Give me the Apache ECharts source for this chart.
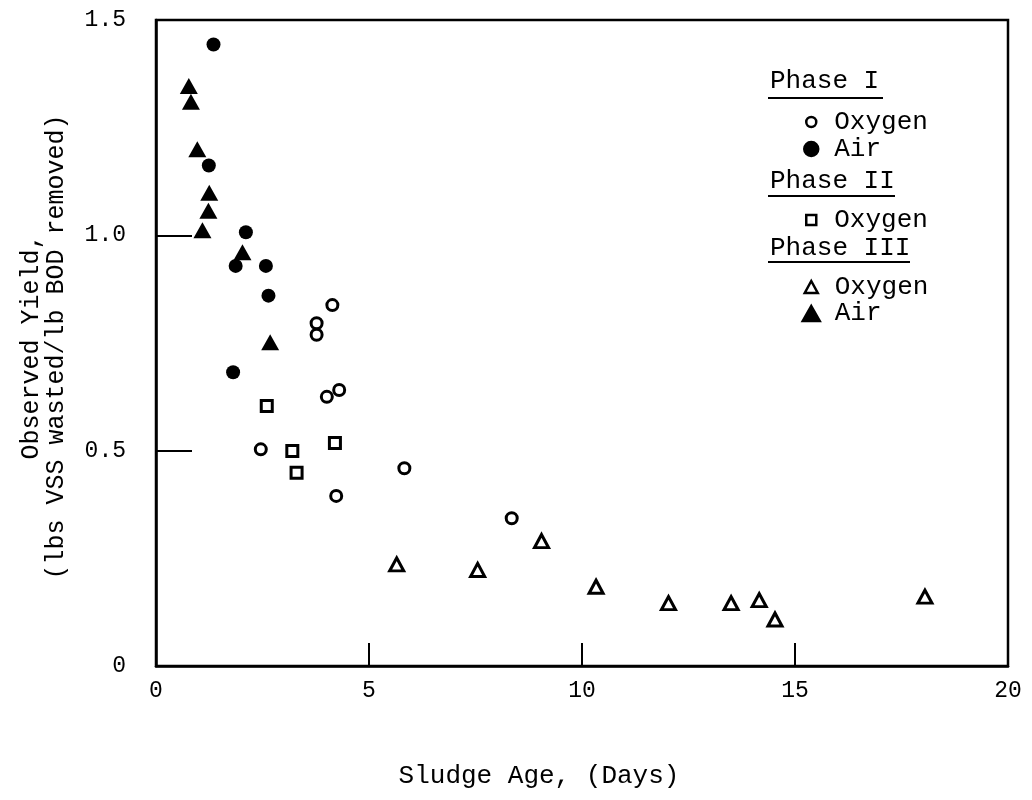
<!DOCTYPE html>
<html>
<head>
<meta charset="utf-8">
<script src="https://cdn.jsdelivr.net/npm/echarts@6/dist/echarts.min.js"></script>
<style>html,body{margin:0;padding:0;background:#fff;}#c{width:1032px;height:800px;}</style>
</head>
<body>
<div id="c"></div>
<script>
// Sludge age (days), observed yield
var phase1OxygenX = [4.14, 3.77, 3.77, 4.30, 4.01, 2.46, 5.83, 4.23, 8.35];
var phase1OxygenY = [0.838, 0.796, 0.769, 0.641, 0.625, 0.503, 0.459, 0.395, 0.343];
var phase1AirX = [1.35, 1.24, 2.11, 1.87, 2.58, 2.64, 1.81];
var phase1AirY = [1.443, 1.162, 1.007, 0.929, 0.929, 0.860, 0.682];
var phase2OxygenX = [2.60, 3.20, 4.20, 3.30];
var phase2OxygenY = [0.604, 0.499, 0.518, 0.449];
var phase3OxygenX = [5.65, 7.55, 9.05, 10.33, 12.03, 13.50, 14.16, 14.53, 18.05];
var phase3OxygenY = [0.236, 0.223, 0.290, 0.184, 0.146, 0.146, 0.153, 0.108, 0.161];
var phase3AirX = [0.77, 0.82, 0.97, 1.25, 1.23, 1.09, 2.03, 2.68];
var phase3AirY = [1.347, 1.310, 1.200, 1.099, 1.057, 1.012, 0.961, 0.752];

var xTicks = [0, 5, 10, 15, 20];
var yTicks = [0, 0.5, 1.0, 1.5];
var xTitle = 'Sludge Age, (Days)';
var yTitle = 'Observed Yield,\n(lbs VSS wasted/lb BOD removed)';
var phaseHeaders = ['Phase I', 'Phase II', 'Phase III'];

function pairs(xs, ys) { return xs.map(function (x, i) { return [x, ys[i]]; }); }

var FONT = 'Liberation Mono';
var INK = '#000';

var chart = echarts.init(document.getElementById('c'), null, { renderer: 'canvas' });

function legendItem(name, label, icon, w, h, cx, cy, padLeft) {
  return {
    show: true,
    data: [{ name: name, icon: icon }],
    left: cx - w / 2,
    top: cy - h / 2,
    padding: 0,
    itemWidth: w,
    itemHeight: h,
    selectedMode: false,
    formatter: function () { return label; },
    itemStyle: { borderWidth: 2.5, opacity: 1 },
    textStyle: { fontFamily: FONT, fontSize: 26, color: INK, padding: [0, 0, 0, padLeft] }
  };
}

var openStyle = { color: '#fff', borderColor: INK, borderWidth: 3, opacity: 1 };
var filledStyle = { color: INK, borderColor: INK, borderWidth: 0, opacity: 1 };

var option = {
  backgroundColor: '#fff',
  animation: false,
  grid: { left: 156, right: 24, top: 20, bottom: 134, show: true, borderColor: INK, borderWidth: 2.5, backgroundColor: 'transparent' },
  xAxis: {
    type: 'value', min: xTicks[0], max: xTicks[xTicks.length - 1], interval: 5,
    axisLine: { show: true, lineStyle: { color: INK, width: 2.5 } },
    axisTick: { show: true, inside: true, length: 23, lineStyle: { color: INK, width: 2 } },
    axisLabel: { fontFamily: FONT, fontSize: 23, color: INK, margin: 13 },
    splitLine: { show: false },
    name: xTitle, nameLocation: 'middle', nameGap: 97,
    nameTextStyle: { fontFamily: FONT, fontSize: 26, color: INK, padding: [0, 86, 0, 0] }
  },
  yAxis: {
    type: 'value', min: yTicks[0], max: yTicks[yTicks.length - 1], interval: 0.5,
    axisLine: { show: true, lineStyle: { color: INK, width: 2.5 } },
    axisTick: { show: true, inside: true, length: 36, lineStyle: { color: INK, width: 2 } },
    axisLabel: { fontFamily: FONT, fontSize: 23, color: INK, margin: 30,
      formatter: function (v) { return v === 0 ? '0' : v.toFixed(1); } },
    splitLine: { show: false },
    name: yTitle, nameLocation: 'middle', nameGap: 87, nameRotate: 90,
    nameTextStyle: { fontFamily: FONT, fontSize: 25, color: INK, lineHeight: 25, align: 'center', padding: [0, 8, 0, 0] }
  },
  legend: [
    legendItem('Phase I Oxygen', 'Oxygen', 'circle', 10, 10, 810, 114, 13),
    legendItem('Phase I Air', 'Air', 'circle', 14, 14, 810, 143, 11),
    legendItem('Phase II Oxygen', 'Oxygen', 'rect', 10, 10, 810, 212, 13),
    legendItem('Phase III Oxygen', 'Oxygen', 'triangle', 13, 12, 810, 280, 12),
    legendItem('Phase III Air', 'Air', 'triangle', 17, 15, 810, 308, 10)
  ],
  graphic: [
    { type: 'text', left: 770, top: 83 - 15, style: { text: phaseHeaders[0], font: '26px "' + FONT + '"', fill: INK } },
    { type: 'line', shape: { x1: 768, y1: 98, x2: 883, y2: 98 }, style: { stroke: INK, lineWidth: 2 } },
    { type: 'text', left: 770, top: 183 - 15, style: { text: phaseHeaders[1], font: '26px "' + FONT + '"', fill: INK } },
    { type: 'line', shape: { x1: 768, y1: 196, x2: 895, y2: 196 }, style: { stroke: INK, lineWidth: 2 } },
    { type: 'text', left: 770, top: 250 - 15, style: { text: phaseHeaders[2], font: '26px "' + FONT + '"', fill: INK } },
    { type: 'line', shape: { x1: 768, y1: 262, x2: 910, y2: 262 }, style: { stroke: INK, lineWidth: 2 } }
  ],
  series: [
    { name: 'Phase I Oxygen', type: 'scatter', symbol: 'circle', symbolSize: 11, itemStyle: openStyle, data: pairs(phase1OxygenX, phase1OxygenY) },
    { name: 'Phase II Oxygen', type: 'scatter', symbol: 'rect', symbolSize: 11, itemStyle: openStyle, data: pairs(phase2OxygenX, phase2OxygenY) },
    { name: 'Phase III Oxygen', type: 'scatter', symbol: 'triangle', symbolSize: [14, 13], itemStyle: openStyle, data: pairs(phase3OxygenX, phase3OxygenY) },
    { name: 'Phase I Air', type: 'scatter', symbol: 'circle', symbolSize: 14, itemStyle: filledStyle, data: pairs(phase1AirX, phase1AirY) },
    { name: 'Phase III Air', type: 'scatter', symbol: 'triangle', symbolSize: [18, 16], itemStyle: filledStyle, data: pairs(phase3AirX, phase3AirY) }
  ]
};
chart.setOption(option);
</script>
</body>
</html>
